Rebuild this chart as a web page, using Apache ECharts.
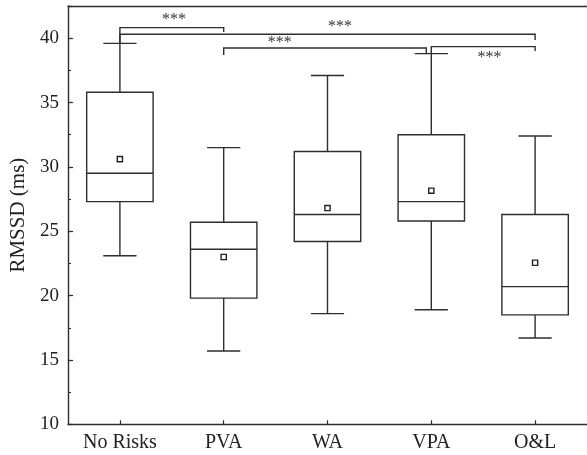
<!DOCTYPE html>
<html><head><meta charset="utf-8">
<script src="https://cdn.jsdelivr.net/npm/echarts@6/dist/echarts.min.js"></script>
<style>html,body{margin:0;padding:0;background:#fff;overflow:hidden}#c{width:587px;height:455px}</style>
</head><body><div id="c"></div>
<script>
// ---- data ----
const categories = ['No Risks', 'PVA', 'WA', 'VPA', 'O&L'];
const whiskerLow  = [23.1, 15.7, 18.6, 18.9, 16.7];
const q1          = [27.3, 19.8, 24.2, 25.8, 18.5];
const median      = [29.5, 23.6, 26.3, 27.3, 20.7];
const q3          = [35.8, 25.7, 31.2, 32.5, 26.3];
const whiskerHigh = [39.6, 31.5, 37.1, 38.8, 32.4];
const means       = [30.6, 23.0, 26.8, 28.15, 22.55];
const yTickValues = [10, 15, 20, 25, 30, 35, 40];

// significance brackets (category index / value coordinates)
const bracketFrom     = [0, 0, 1, 3];
const bracketTo       = [1, 4, 3, 4];
const bracketTop      = [40.82, 40.30, 39.24, 39.34];
const bracketLeftEnd  = [39.6, 39.6, 38.7, 38.77];
const bracketRightEnd = [40.48, 39.86, 38.85, 39.0];
const bracketText     = ['***', '***', '***', '***'];
const bracketLabelX   = [0.52, 2.12, 1.54, 3.56];
const bracketLabelY   = [41.73, 41.2, 39.98, 38.81];

// ---- styles ----
const INK = '#2e2e2e';
const FONT = 'Liberation Serif';
const rightLegShift = [0, 0, -5, 0]; // px nudge so adjacent brackets do not merge

const chart = echarts.init(document.getElementById('c'));

const boxData = categories.map((_, i) => [i, whiskerLow[i], q1[i], median[i], q3[i], whiskerHigh[i], means[i]]);
const bracketData = bracketFrom.map((f, i) => [f, bracketTo[i], bracketTop[i], bracketLeftEnd[i], bracketRightEnd[i], bracketLabelX[i], bracketLabelY[i], i]);

const option = {
  animation: false,
  grid: {left: 68, top: 6, width: 524, height: 418.3},
  xAxis: [
    {
      type: 'category', data: categories, position: 'bottom',
      axisLine: {show: true, onZero: false, lineStyle: {color: INK, width: 1.4}},
      axisTick: {show: true, inside: true, alignWithLabel: true, length: 4, lineStyle: {color: INK, width: 1.2}},
      axisLabel: {fontFamily: FONT, fontSize: 20, color: '#222', margin: 8},
      splitLine: {show: false}
    },
    {
      type: 'value', position: 'top', min: -0.5, max: 4.5,
      axisLine: {show: true, onZero: false, lineStyle: {color: INK, width: 1.4}},
      axisTick: {show: false}, axisLabel: {show: false}, splitLine: {show: false}
    }
  ],
  yAxis: [
    {
      type: 'value', min: 10, max: 42.5, interval: 5, position: 'left',
      name: 'RMSSD (ms)', nameLocation: 'middle', nameGap: 39,
      nameTextStyle: {fontFamily: FONT, fontSize: 21, color: '#222'},
      axisLine: {show: true, onZero: false, lineStyle: {color: INK, width: 1.4}},
      axisTick: {show: true, inside: true, length: 5, lineStyle: {color: INK, width: 1.2}},
      axisLabel: {fontFamily: FONT, fontSize: 19, color: '#222', margin: 9,
        formatter: v => (yTickValues.indexOf(v) >= 0 ? String(v) : '')},
      splitLine: {show: false}
    },
    {
      type: 'value', min: 10, max: 42.5, interval: 2.5, position: 'left',
      axisLine: {show: false, onZero: false},
      axisTick: {show: true, inside: true, length: 3, lineStyle: {color: INK, width: 1.1}},
      axisLabel: {show: false}, splitLine: {show: false}
    }
  ],
  series: [
    {
      type: 'custom', xAxisIndex: 0, yAxisIndex: 0, clip: false,
      data: boxData,
      encode: {x: 0, y: [1, 2, 3, 4, 5]},
      renderItem: function (params, api) {
        const i = api.value(0);
        const c = v => api.coord([i, v]);
        const band = api.size([1, 0])[0];
        const bw = band * 0.64;
        const cw = bw * 0.5;
        const pLow = c(api.value(1)), pQ1 = c(api.value(2)), pMed = c(api.value(3)),
              pQ3 = c(api.value(4)), pHigh = c(api.value(5)), pMean = c(api.value(6));
        const x = pMed[0];
        const st = {stroke: INK, lineWidth: 1.4, fill: null};
        return {
          type: 'group',
          children: [
            {type: 'line', shape: {x1: x, y1: pQ3[1], x2: x, y2: pHigh[1]}, style: st},
            {type: 'line', shape: {x1: x, y1: pLow[1], x2: x, y2: pQ1[1]}, style: st},
            {type: 'line', shape: {x1: x - cw / 2, y1: pHigh[1], x2: x + cw / 2, y2: pHigh[1]}, style: st},
            {type: 'line', shape: {x1: x - cw / 2, y1: pLow[1], x2: x + cw / 2, y2: pLow[1]}, style: st},
            {type: 'rect', shape: {x: x - bw / 2, y: pQ3[1], width: bw, height: pQ1[1] - pQ3[1]}, style: {stroke: INK, lineWidth: 1.4, fill: 'rgba(255,255,255,0)'}},
            {type: 'line', shape: {x1: x - bw / 2, y1: pMed[1], x2: x + bw / 2, y2: pMed[1]}, style: st},
            {type: 'rect', shape: {x: x - 2.6, y: pMean[1] - 2.6, width: 5.2, height: 5.2}, style: {stroke: '#222', lineWidth: 1.4, fill: '#fff'}}
          ]
        };
      }
    },
    {
      type: 'custom', xAxisIndex: 1, yAxisIndex: 0, clip: false,
      data: bracketData,
      encode: {x: [0, 1], y: [2]},
      renderItem: function (params, api) {
        const f = api.value(0), t = api.value(1), top = api.value(2);
        const le = api.value(3), re = api.value(4), lx = api.value(5), ly = api.value(6);
        const idx = api.value(7);
        const a = api.coord([f, le]), b = api.coord([f, top]);
        const cc = api.coord([t, top]), d = api.coord([t, re]);
        const sh = rightLegShift[idx];
        const lp = api.coord([lx, ly]);
        return {
          type: 'group',
          children: [
            {type: 'polyline', shape: {points: [a, b, [cc[0] + sh, cc[1]], [d[0] + sh, d[1]]]}, style: {stroke: INK, lineWidth: 1.4, fill: null}},
            {type: 'text', x: lp[0], y: lp[1] + 4, style: {text: bracketText[idx], font: '16px "' + FONT + '"', fill: '#333', align: 'center', verticalAlign: 'middle'}}
          ]
        };
      }
    }
  ]
};
chart.setOption(option);
</script>
</body></html>
